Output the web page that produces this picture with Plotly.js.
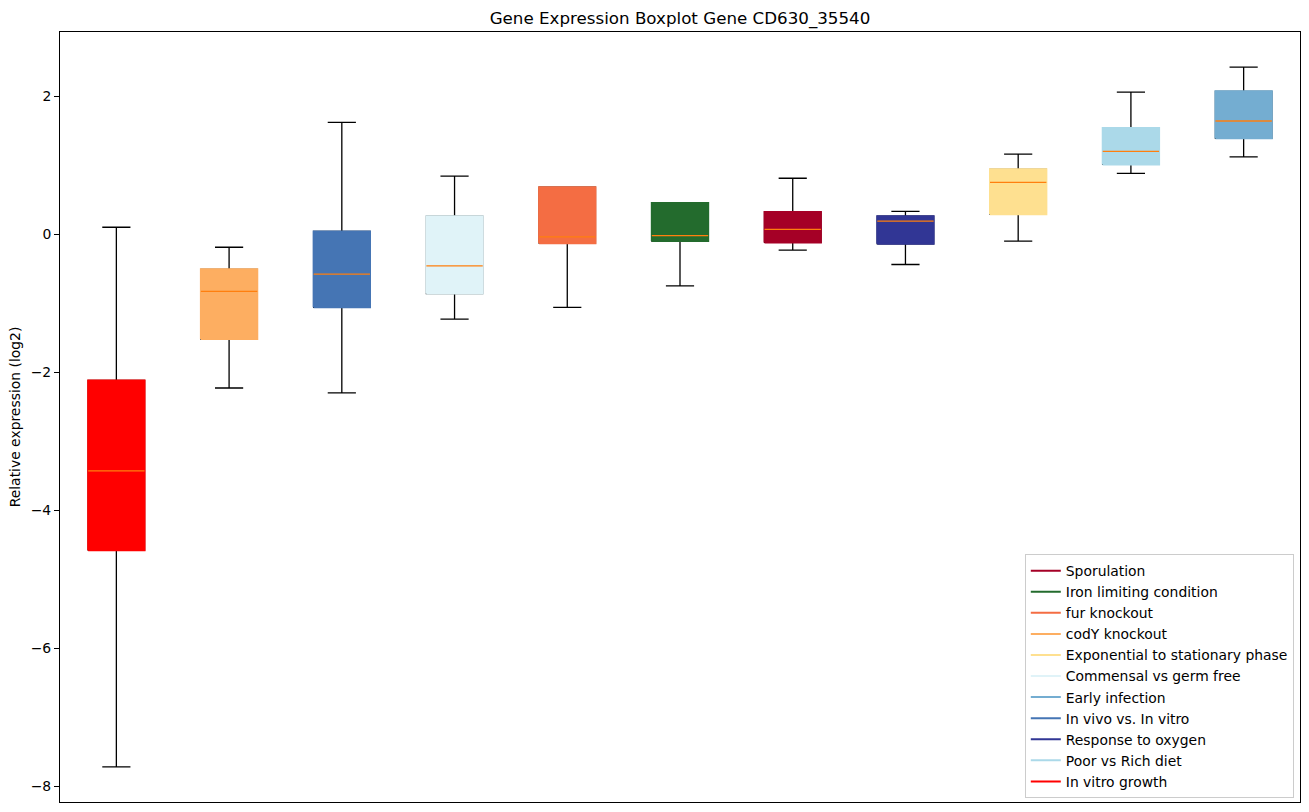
<!DOCTYPE html>
<html>
<head>
<meta charset="utf-8">
<script src="https://cdn.plot.ly/plotly-3.0.1.min.js"></script>
<style>html,body{margin:0;padding:0;background:#fff;}#chart{width:1309px;height:812px;}</style>
</head>
<body>
<div id="chart"></div>
<script>
// Boxes, left to right
const categories = ["In vitro growth","codY knockout","In vivo vs. In vitro","Commensal vs germ free","fur knockout","Iron limiting condition","Sporulation","Response to oxygen","Exponential to stationary phase","Poor vs Rich diet","Early infection"];
const colors = ["#FF0000","#FDAE61","#4575B4","#E0F3F8","#F46D43","#236B2D","#A50026","#313695","#FEE090","#ABD9E9","#74ADD1"];
const lowerWhisker = [-7.72,-2.23,-2.30,-1.23,-1.06,-0.75,-0.23,-0.44,-0.10,0.88,1.12];
const q1Values     = [-4.58,-1.52,-1.06,-0.86,-0.13,-0.10,-0.12,-0.14,0.29,1.01,1.39];
const medianValues = [-3.43,-0.83,-0.58,-0.46,-0.04,-0.02,0.07,0.19,0.75,1.20,1.64];
const q3Values     = [-2.12,-0.51,0.04,0.26,0.68,0.45,0.32,0.26,0.94,1.54,2.07];
const upperWhisker = [0.10,-0.19,1.62,0.84,0.68,0.45,0.81,0.33,1.16,2.06,2.42];
// Legend order
const legendOrder = ["Sporulation","Iron limiting condition","fur knockout","codY knockout","Exponential to stationary phase","Commensal vs germ free","Early infection","In vivo vs. In vitro","Response to oxygen","Poor vs Rich diet","In vitro growth"];

const boxWidth = 0.5, half = boxWidth / 2;
const traces = [];
categories.forEach((c, i) => {
  const p = i + 1;
  traces.push({
    type: 'box', x: [p], q1: [q1Values[i]], median: [medianValues[i]], q3: [q3Values[i]],
    lowerfence: [lowerWhisker[i]], upperfence: [upperWhisker[i]],
    width: boxWidth, whiskerwidth: 0.5, boxpoints: false,
    line: {color: 'black', width: 1.3}, fillcolor: colors[i],
    showlegend: false, hoverinfo: 'skip', name: c
  });
});
categories.forEach((c, i) => {
  const p = i + 1;
  traces.push({
    type: 'scatter', mode: 'lines',
    x: [p - half, p + half, p + half, p - half, p - half],
    y: [q1Values[i], q1Values[i], q3Values[i], q3Values[i], q1Values[i]],
    fill: 'toself', fillcolor: colors[i], line: {color: colors[i], width: 2},
    showlegend: false, hoverinfo: 'skip'
  });
  traces.push({
    type: 'scatter', mode: 'lines',
    x: [p - half, p + half], y: [medianValues[i], medianValues[i]],
    line: {color: '#FF7F0E', width: 1.3}, showlegend: false, hoverinfo: 'skip'
  });
});
legendOrder.forEach(name => {
  const idx = categories.indexOf(name);
  traces.push({
    type: 'scatter', mode: 'lines', x: [null], y: [null], name: name,
    line: {color: colors[idx], width: 2}, showlegend: true, hoverinfo: 'skip'
  });
});

const layout = {
  width: 1309, height: 812,
  margin: {l: 60, r: 9, t: 32, b: 10},
  paper_bgcolor: '#fff', plot_bgcolor: '#fff',
  font: {family: 'DejaVu Sans', size: 13.9, color: '#000'},
  title: {text: 'Gene Expression Boxplot Gene CD630_35540', font: {size: 16.7}, xref: 'paper', x: 0.5, xanchor: 'center', y: 0.978, yanchor: 'middle'},
  boxmode: 'overlay',
  showlegend: true,
  xaxis: {range: [0.5, 11.5], showticklabels: false, ticks: '', showgrid: false, zeroline: false,
          showline: true, mirror: true, linecolor: '#000', linewidth: 1},
  yaxis: {range: [-8.23, 2.93], tickvals: [-8,-6,-4,-2,0,2], ticks: 'outside', ticklen: 5, tickcolor: '#000',
          tickfont: {size: 13.9}, showgrid: false, zeroline: false, showline: true, mirror: true, linecolor: '#000', linewidth: 1,
          title: {text: 'Relative expression (log2)', font: {size: 13.9}, standoff: 6}},
  legend: {x: 0.995, y: 0.005, xanchor: 'right', yanchor: 'bottom', bgcolor: 'rgba(255,255,255,0.8)',
           bordercolor: '#cccccc', borderwidth: 1, font: {size: 13.9}, traceorder: 'normal', tracegroupgap: 0}
};
Plotly.newPlot('chart', traces, layout, {staticPlot: true, displayModeBar: false});
</script>
</body>
</html>
